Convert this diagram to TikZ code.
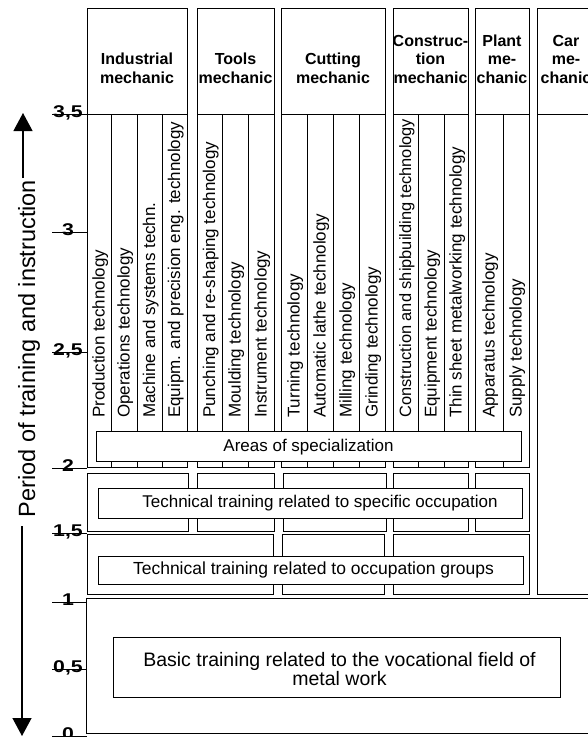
\documentclass[tikz,border=0pt]{standalone}
\usepackage{fontspec}
\setmainfont{Liberation Sans}
\usetikzlibrary{arrows.meta}
\tikzset{
  frame/.style={draw, line width=0.8pt},
  banner/.style={draw, fill=white, line width=0.8pt, inner sep=0pt},
  lbl/.style={font=\fontsize{17}{19.5}\selectfont, align=center, inner sep=0pt},
  hdr/.style={font=\fontsize{16}{18.5}\selectfont\bfseries, align=center, anchor=south, inner sep=0pt},
  spec/.style={font=\fontsize{17}{19}\selectfont, rotate=90, anchor=base west, inner sep=0pt},
  tick/.style={font=\fontsize{17}{17}\selectfont\bfseries, anchor=base, inner sep=0pt, xscale=1.25},
  axis/.style={-{Triangle[width=19pt,length=18pt]}, line width=1.2pt},
}
\begin{document}
\begin{tikzpicture}[x=1pt,y=-1pt]
  \useasboundingbox (0,0) rectangle (588,737);
  \clip (0,0) rectangle (588,737);
  % occupations: header box and column frame
  \foreach \l/\r/\t [count=\i] in {87/187/{Industrial\\mechanic}, 197/274/{Tools\\mechanic},
      281/385/{Cutting\\mechanic}, 393/468/{Construc-\\tion\\mechanic}, 475/529/{Plant\\me-\\chanic}} {
    \draw[frame] (\l,8) rectangle (\r,114);
    \draw[frame] (\l,114) rectangle (\r,467);
    \node[hdr] (h\i) at ({(\l+\r)/2},83.5) {\t};
  }
  \draw[frame] (537,8) rectangle (600,594);
  \draw[frame] (537,114) -- (600,114);
  \node[hdr] (car) at (566,83.5) {Car\\me-\\chanic};
  % column dividers
  \foreach \x in {111,137,162,222,248,307,333,359,418,444,503}
    \draw[frame] (\x,114) -- (\x,467);
  % specializations
  \foreach \c/\t [count=\i] in {99/Production technology, 124/Operations technology,
      149.5/Machine and systems techn., 174.5/Equipm. and precision eng. technology,
      209.5/Punching and re-shaping technology, 235/Moulding technology, 261/Instrument technology,
      294/Turning technology, 320/Automatic lathe technology, 346/Milling technology,
      372/Grinding technology, 405.5/{\fontsize{16.4}{19}\selectfont Construction and shipbuilding technology},
      431/Equipment technology, 456/Thin sheet metalworking technology,
      489/Apparatus technology, 516/Supply technology}
    \node[spec] (sp\i) at (\c+5.5,418) {\t};
  % training rows
  \foreach \l/\r in {87/188, 197/274, 283/386, 393/468, 475/529}
    \draw[frame] (\l,473) rectangle (\r,531);
  \foreach \l/\r in {87/273, 282/384, 393/529}
    \draw[frame] (\l,534) rectangle (\r,594);
  \draw[frame] (86,598) rectangle (600,733);
  \node[banner, minimum width=425pt, minimum height=30pt] (areas) at (308.5,446) {};
  \node[banner, minimum width=424pt, minimum height=30pt] (occ) at (310,503) {};
  \node[banner, minimum width=425pt, minimum height=28pt] (grp) at (310.5,570) {};
  \node[banner, minimum width=447pt, minimum height=60pt] (basic) at (336.5,667) {};
  \node[lbl, yshift=-1.5pt] (areas-t) at (areas) {Areas of specialization};
  \node[lbl, xshift=10pt] (occ-t) at (occ) {Technical training related to specific occupation};
  \node[lbl, xshift=3pt, font=\fontsize{17.5}{19.5}\selectfont] (grp-t) at (grp) {Technical training related to occupation groups};
  \node[lbl, xshift=3pt, yshift=-2pt, font=\fontsize{19.5}{18.5}\selectfont] (basic-t) at (basic) {Basic training related to the vocational field of\\metal work};
  % time axis
  \foreach \y/\v [count=\i] in {114/{3,5}, 232/3, 352/{2,5}, 468/2, 533/{1,5}, 602/1, 669/{0,5}, 736/0} {
    \draw[line width=0.8pt] (52,\y) -- (87,\y);
    \node[tick] (t\i) at (68,\y+3.5) {\v};
  }
  \coordinate (uptip) at (23,113);
  \coordinate (upend) at (23,178);
  \coordinate (dnend) at (22,526);
  \coordinate (dntip) at (22,736);
  \draw[axis] (upend) -- (uptip);
  \draw[axis] (dnend) -- (dntip);
  \node[rotate=90, anchor=base, inner sep=0pt, font=\fontsize{23.5}{26}\selectfont] (period) at (35,348.5) {Period of training and instruction};
\end{tikzpicture}
\end{document}
